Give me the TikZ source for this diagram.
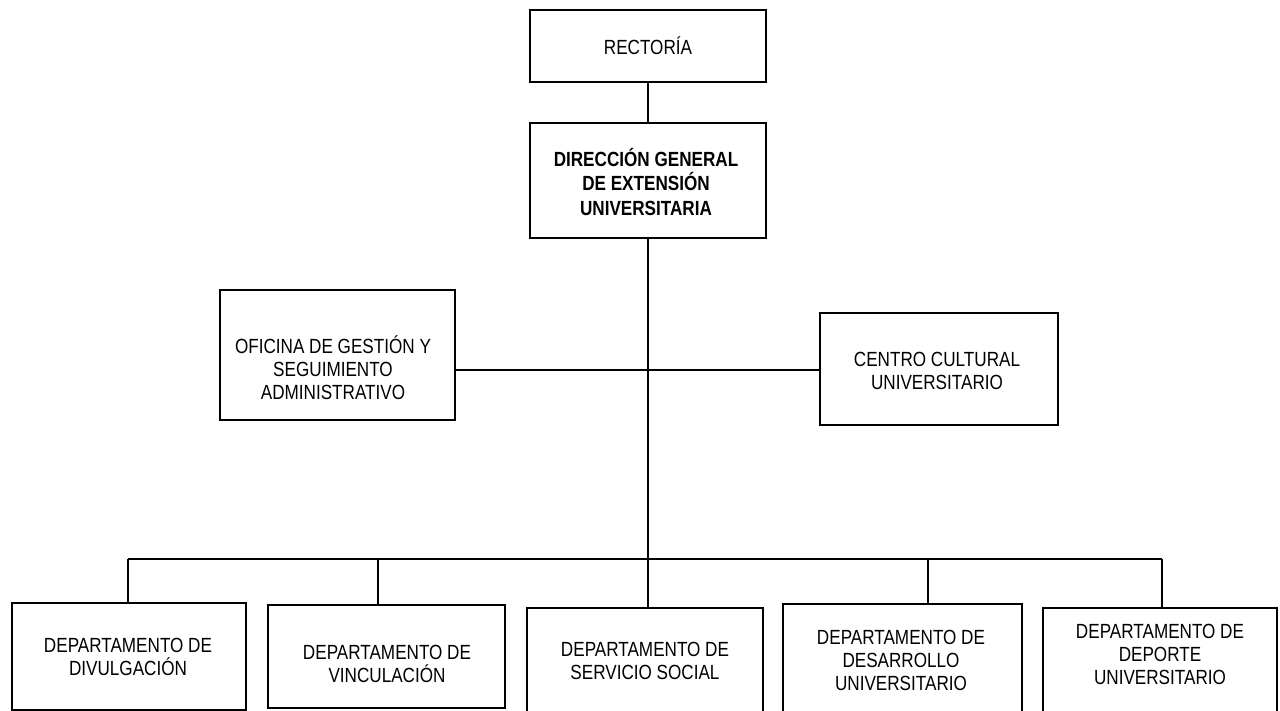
\documentclass[tikz,border=0pt]{standalone}
\usepackage{fontspec}
\setmainfont{Liberation Sans}[FakeStretch=0.835]
\usetikzlibrary{fit}
\begin{document}
\begin{tikzpicture}[x=1pt,y=-1pt,
  orgbox/.style={draw, line width=1.7pt, inner sep=0pt},
  lbl/.style={align=center, inner sep=0pt, font=\fontsize{20.5}{23}\selectfont},
  lblbold/.style={align=center, inner sep=0pt, font=\fontsize{20.5}{24.5}\selectfont\bfseries},
  link/.style={line width=1.7pt}]
\useasboundingbox (0,0) rectangle (1280,711);

% boxes
\node[orgbox, fit={(530,10) (766,82)}]    (rect) {};
\node[orgbox, fit={(530,123) (766,238)}]  (dir)  {};
\node[orgbox, fit={(220,290) (455,420)}]  (ofi)  {};
\node[orgbox, fit={(820,313) (1058,425)}] (cen)  {};
\node[orgbox, fit={(12,603) (246,710)}]   (d1)   {};
\node[orgbox, fit={(268,605) (505,708)}]  (d2)   {};
\node[orgbox, fit={(527,608) (763,713)}]  (d3)   {};
\node[orgbox, fit={(783,604) (1022,713)}] (d4)   {};
\node[orgbox, fit={(1043,608) (1277,713)}] (d5)  {};

% labels
\node[lbl]     (rect-t) at (648,46)   {RECTORÍA};
\node[lblbold] (dir-t)  at (646,182)  {DIRECCIÓN GENERAL\\DE EXTENSIÓN\\UNIVERSITARIA};
\node[lbl]     (ofi-t)  at (333,368)  {OFICINA DE GESTIÓN Y\\SEGUIMIENTO\\ADMINISTRATIVO};
\node[lbl]     (cen-t)  at (937,371)  {CENTRO CULTURAL\\UNIVERSITARIO};
\node[lbl]     (d1-t)   at (128,657)  {DEPARTAMENTO DE\\DIVULGACIÓN};
\node[lbl]     (d2-t)   at (387,664)  {DEPARTAMENTO DE\\VINCULACIÓN};
\node[lbl]     (d3-t)   at (645,661)  {DEPARTAMENTO DE\\SERVICIO SOCIAL};
\node[lbl]     (d4-t)   at (901,660)  {DEPARTAMENTO DE\\DESARROLLO\\UNIVERSITARIO};
\node[lbl]     (d5-t)   at (1160,654) {DEPARTAMENTO DE\\DEPORTE\\UNIVERSITARIO};

% junctions on the connecting lines
\coordinate (mid) at (648,370);
\coordinate (j1) at (128,559);
\coordinate (j2) at (378,559);
\coordinate (j3) at (648,559);
\coordinate (j4) at (928,559);
\coordinate (j5) at (1162,559);

% connectors
\draw[link] (rect) -- (dir);
\draw[link] (dir.south) -- (j3);
\draw[link] (mid -| ofi.east) -- (mid -| cen.west);
\draw[link] (j1) -- (j5);
\draw[link] (j1) -- (j1 |- d1.north);
\draw[link] (j2) -- (j2 |- d2.north);
\draw[link] (j3) -- (j3 |- d3.north);
\draw[link] (j4) -- (j4 |- d4.north);
\draw[link] (j5) -- (j5 |- d5.north);
\end{tikzpicture}
\end{document}
